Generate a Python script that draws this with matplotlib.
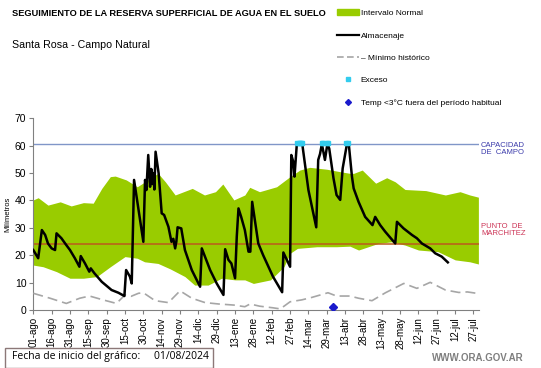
import matplotlib
matplotlib.use('Agg')
import matplotlib.pyplot as plt
from matplotlib.patches import Rectangle
from matplotlib.lines import Line2D
import numpy as np

plt.rcParams['font.family'] = ['Liberation Sans', 'DejaVu Sans']

# datos (dia desde 01/08/2024, milimetros)
banda_sup_dia = [0, 4, 12, 22, 31, 41, 49, 56, 63, 67, 76, 85, 92, 102, 108, 116, 123, 130,
                 140, 149, 155, 164, 173, 177, 185, 199, 210, 218, 226, 240, 251, 259, 262,
                 269, 280, 289, 296, 304, 321, 337, 349, 357, 364]
banda_sup = [40.2, 41.0, 38.3, 39.5, 38.0, 39.2, 39.0, 44.4, 48.7, 48.9, 47.5, 45.0, 47.0, 49.9,
             46.8, 42.0, 43.2, 44.4, 42.0, 43.2, 46.0, 40.2, 42.0, 44.8, 43.2, 45.0, 48.7, 51.1,
             52.1, 51.4, 50.5, 49.9, 49.9, 51.1, 46.3, 48.3, 46.8, 44.0, 43.6, 42.0, 43.2, 42.0, 41.2]
banda_inf_dia = [0, 8, 19, 30, 41, 52, 63, 75, 85, 91, 102, 112, 124, 132, 143, 154, 165, 173,
                 180, 194, 205, 210, 216, 232, 248, 259, 266, 282, 293, 304, 315, 331, 345, 357, 364]
banda_inf = [16.4, 15.8, 14.0, 11.6, 11.6, 12.2, 15.8, 19.5, 18.9, 17.6, 17.0, 15.0, 12.2, 9.1,
             9.1, 11.6, 11.0, 11.0, 9.7, 11.0, 15.8, 20.7, 22.5, 23.1, 23.1, 23.3, 21.9, 24.3,
             24.9, 23.7, 21.9, 21.3, 18.3, 17.6, 16.8]

alm_dia = [0, 4, 7, 9.7, 12, 15, 17.8, 19, 23, 27, 30, 34, 37.7, 38.8, 42.3, 45.8, 47, 50, 56,
           64, 69.6, 74.5, 75.9, 79, 80.5, 82.4, 90, 91.4, 92.5, 94, 95.5, 96.5, 97.5, 98.5,
           99, 100, 102.5, 105, 107, 110.5, 113, 114.5, 116, 117, 118, 121, 124, 129.6, 136.4,
           137.8, 144.6, 150, 155.5, 156.9, 159.6, 162, 165, 166.4, 167.8, 170, 173, 176,
           177.5, 179, 184, 188, 196, 203.5, 204.5, 210, 211, 212.5, 213.6, 215.5, 220,
           225, 231.4, 233, 234.5, 236, 238.5, 240.5, 242, 245.5, 248, 251, 253, 256.5,
           258, 260.6, 262, 266, 271.4, 277.4, 279.6, 283.7, 287.8, 296, 297.4, 302.8,
           309.7, 313.7, 317.8, 324.6, 328.7, 334, 339]
alm = [21.9, 18.9, 29.2, 27.4, 24.3, 22.5, 21.9, 28.0, 26.2, 23.7, 21.9, 18.9, 15.8, 19.7,
       17.0, 14.0, 15.2, 13.4, 10.3, 7.3, 6.3, 5.1, 14.6, 12.2, 9.7, 47.5, 24.9, 47.5, 43.8,
       56.6, 45.0, 51.5, 46.0, 50.0, 44.0, 57.8, 49.9, 35.3, 34.7, 30.4, 24.9, 26.0, 22.5,
       25.0, 30.2, 29.8, 21.9, 14.6, 8.5, 22.5, 14.6, 9.7, 5.5, 22.2, 18.3, 17.0, 11.6, 26.8,
       37.1, 34.0, 29.2, 21.3, 21.3, 39.5, 24.3, 20.0, 12.2, 6.5, 21.0, 15.8, 56.6, 54.3,
       48.7, 60.5, 60.5, 43.8, 30.2, 54.8, 57.0, 60.6, 54.8, 60.6, 59.0, 48.1, 42.0, 40.2,
       51.7, 60.6, 60.6, 48.7, 44.4, 39.5, 34.0, 31.0, 34.0, 31.0, 28.6, 24.3, 32.2, 29.8,
       27.4, 26.2, 24.3, 22.5, 20.7, 19.5, 17.4]

min_dia = [0, 13.7, 27, 38, 46, 57, 68, 75, 80, 86, 90, 99.6, 110.5, 120, 129.6, 140.5, 151.4,
           164, 173, 177.3, 185, 196, 202, 210, 219.6, 227.8, 241, 248, 259, 266, 277, 288,
           303, 313.7, 324.6, 337, 348, 355, 364]
min_hist = [6.1, 4.3, 2.4, 4.3, 5.1, 3.7, 2.4, 5.5, 5.0, 6.1, 6.3, 3.4, 2.7, 7.0, 4.3, 2.7,
            2.2, 1.8, 1.2, 2.2, 1.4, 0.8, 0.4, 3.0, 3.7, 4.6, 6.3, 5.1, 5.1, 4.3, 3.4, 6.3,
            9.7, 7.9, 10.1, 7.3, 6.4, 6.6, 6.0]

exceso_dia = [216, 217, 218, 219, 220, 236, 237, 240, 241, 256, 257]
helada_dia = [245.5]
helada_val = [1.0]

capacidad = 60.5
marchitez = 24.2

ticks_dia = list(range(0, 361, 15))
ticks_lab = ['01-ago', '16-ago', '31-ago', '15-sep', '30-sep', '15-oct', '30-oct', '14-nov',
             '29-nov', '14-dic', '29-dic', '13-ene', '28-ene', '12-feb', '27-feb', '14-mar',
             '29-mar', '13-abr', '28-abr', '13-may', '28-may', '12-jun', '27-jun', '12-jul',
             '27-jul']

W, H = 541, 368
fig = plt.figure(figsize=(W / 100, H / 100), dpi=100)
ax = fig.add_axes([33.3 / W, 1 - 310 / H, (479 - 33.3) / W, (310 - 118.3) / H])

# banda normal
grid = np.arange(0, 364.5, 0.5)
sup = np.interp(grid, banda_sup_dia, banda_sup)
inf = np.interp(grid, banda_inf_dia, banda_inf)
ax.fill_between(grid, inf, sup, color='#99cc00', lw=0, zorder=1)

ax.axhline(capacidad, color='#8096c8', lw=1.0, zorder=2)
ax.axhline(marchitez, color='#bb5a1e', lw=1.1, zorder=2)
ax.plot(min_dia, min_hist, color='#a6a6a6', lw=1.2, dashes=(6, 3), zorder=3)
ax.plot(alm_dia, alm, color='black', lw=1.8, zorder=4)
ax.plot(exceso_dia, [capacidad + 0.3] * len(exceso_dia), ls='none', marker='s', ms=2.6,
        color='#33ccee', zorder=5)
ax.plot(helada_dia, helada_val, ls='none', marker='D', ms=4, color='#1a1acc', zorder=5)

ax.set_xlim(0, 364.5)
ax.set_ylim(0, 70)
ax.set_yticks(range(0, 71, 10))
ax.set_xticks(ticks_dia)
ax.set_xticklabels(ticks_lab, rotation=90, fontsize=7)
ax.tick_params(axis='y', labelsize=7.5, length=3, color='#808080', pad=2)
ax.tick_params(axis='x', length=3, color='#808080', pad=2)
for s in ['top', 'right']:
    ax.spines[s].set_visible(False)
for s in ['left', 'bottom']:
    ax.spines[s].set_color('#808080')
ax.set_ylabel('Milímetros', fontsize=5.5)
ax.yaxis.set_label_coords(-(33.3 - 11) / 445.7, 0.5)

def px(x, y):
    return x / W, 1 - y / H

fig.text(*px(12, 13), 'SEGUIMIENTO DE LA RESERVA SUPERFICIAL DE AGUA EN EL SUELO',
         fontsize=6.7, fontweight='bold', va='center')
fig.text(*px(12, 45), 'Santa Rosa - Campo Natural', fontsize=7.7, va='center')

fig.text(*px(481, 149), 'CAPACIDAD\nDE  CAMPO', fontsize=5.5, color='#3a3aaa',
         va='center', linespacing=1.1)
fig.text(*px(481, 230), 'PUNTO  DE\nMARCHITEZ', fontsize=5.5, color='#cc3355',
         va='center', linespacing=1.1)

# leyenda
handles = [Rectangle((0, 0), 1, 1, color='#99cc00'),
           Line2D([], [], color='black', lw=1.6),
           Line2D([], [], color='#a6a6a6', lw=1.2, dashes=(4, 2)),
           Line2D([], [], ls='none', marker='s', ms=2.5, color='#33ccee'),
           Line2D([], [], ls='none', marker='D', ms=3, color='#1a1acc')]
labels = ['Intervalo Normal', 'Almacenaje', '– Mínimo histórico', 'Exceso',
          'Temp <3°C fuera del período habitual']
fig.legend(handles, labels, loc='upper left', bbox_to_anchor=px(334, 6), frameon=False,
           fontsize=6, handlelength=2.6, handletextpad=0.2, labelspacing=1.75,
           borderaxespad=0)

fig.text(*px(12, 356), 'Fecha de inicio del gráfico:     01/08/2024', fontsize=7.5,
         family=['Open Sans', 'DejaVu Sans'], va='center')
fig.patches.append(Rectangle(px(5, 368), 208 / W, 20 / H, transform=fig.transFigure,
                             fill=False, edgecolor='#8c7878', lw=1))
fig.text(*px(432, 358), 'WWW.ORA.GOV.AR', fontsize=7, color='#7f7f7f',
         fontweight='bold', va='center')

fig.savefig('out.png', dpi=100)
